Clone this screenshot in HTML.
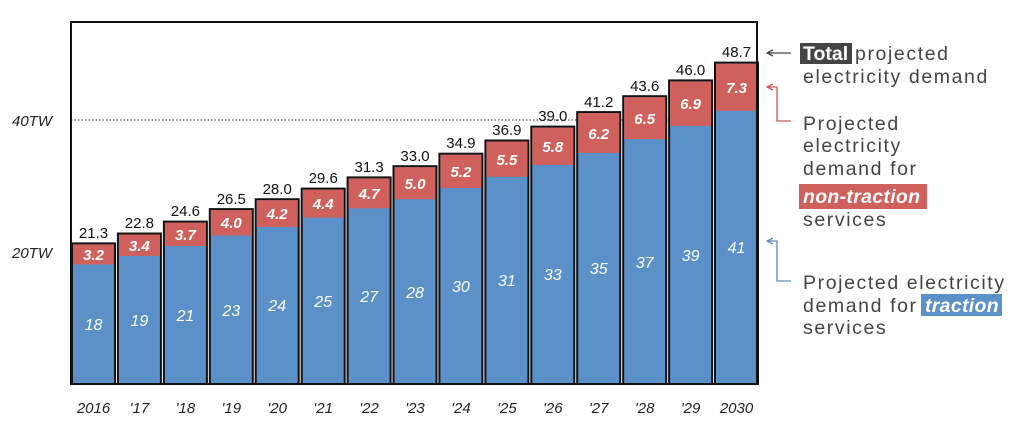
<!DOCTYPE html>
<html><head><meta charset="utf-8"><style>
html,body{margin:0;padding:0;background:#fff;}
svg{display:block;font-family:"Liberation Sans",sans-serif;}
.t{font-size:15px;fill:#111;text-anchor:middle;}
.w{font-size:16px;fill:#fff;text-anchor:middle;font-style:italic;}
.wr{font-size:15px;fill:#fff;text-anchor:middle;font-style:italic;font-weight:bold;}
.x{font-size:15px;fill:#222;text-anchor:middle;font-style:italic;}
.a{font-size:19.5px;fill:#444;letter-spacing:1.6px;}
</style></head><body>
<svg width="1024" height="427" viewBox="0 0 1024 427">
<line x1="71" y1="120" x2="757" y2="120" stroke="#555" stroke-width="1.2" stroke-dasharray="1.5 2"/>
<g stroke="#111" stroke-width="2">
<rect x="72" y="243.4" width="43" height="140.6" fill="#5b90c8"/>
<rect x="117.9" y="233.5" width="43" height="150.5" fill="#5b90c8"/>
<rect x="163.9" y="221.6" width="43" height="162.4" fill="#5b90c8"/>
<rect x="209.8" y="209.1" width="43" height="174.9" fill="#5b90c8"/>
<rect x="255.7" y="199.2" width="43" height="184.8" fill="#5b90c8"/>
<rect x="301.7" y="188.6" width="43" height="195.4" fill="#5b90c8"/>
<rect x="347.6" y="177.4" width="43" height="206.6" fill="#5b90c8"/>
<rect x="393.5" y="166.2" width="43" height="217.8" fill="#5b90c8"/>
<rect x="439.4" y="153.7" width="43" height="230.3" fill="#5b90c8"/>
<rect x="485.4" y="140.5" width="43" height="243.5" fill="#5b90c8"/>
<rect x="531.3" y="126.6" width="43" height="257.4" fill="#5b90c8"/>
<rect x="577.2" y="112.1" width="43" height="271.9" fill="#5b90c8"/>
<rect x="623.2" y="96.2" width="43" height="287.8" fill="#5b90c8"/>
<rect x="669.1" y="80.4" width="43" height="303.6" fill="#5b90c8"/>
<rect x="715" y="62.6" width="43" height="321.4" fill="#5b90c8"/>
</g>
<g fill="#d0605c">
<rect x="73" y="244.4" width="41" height="20.1"/>
<rect x="118.9" y="234.5" width="41" height="21.4"/>
<rect x="164.9" y="222.6" width="41" height="23.4"/>
<rect x="210.8" y="210.1" width="41" height="25.4"/>
<rect x="256.7" y="200.2" width="41" height="26.7"/>
<rect x="302.7" y="189.6" width="41" height="28"/>
<rect x="348.6" y="178.4" width="41" height="30"/>
<rect x="394.5" y="167.2" width="41" height="32"/>
<rect x="440.4" y="154.7" width="41" height="33.3"/>
<rect x="486.4" y="141.5" width="41" height="35.3"/>
<rect x="532.3" y="127.6" width="41" height="37.3"/>
<rect x="578.2" y="113.1" width="41" height="39.9"/>
<rect x="624.2" y="97.2" width="41" height="41.9"/>
<rect x="670.1" y="81.4" width="41" height="44.5"/>
<rect x="716" y="63.6" width="41" height="47.2"/>
</g>
<path d="M71,22 V384 H757 V22 Z" fill="none" stroke="#111" stroke-width="2"/>
<text x="52" y="126" style="font-size:15px;font-style:italic;fill:#222;text-anchor:end">40TW</text>
<text x="52" y="258" style="font-size:15px;font-style:italic;fill:#222;text-anchor:end">20TW</text>
<g class="t">
<text x="93.5" y="238">21.3</text><text x="139.4" y="228">22.8</text><text x="185.4" y="216">24.6</text><text x="231.3" y="204">26.5</text><text x="277.2" y="194">28.0</text><text x="323.2" y="183">29.6</text><text x="369.1" y="172">31.3</text><text x="415" y="161">33.0</text><text x="460.9" y="148">34.9</text><text x="506.9" y="135">36.9</text><text x="552.8" y="121">39.0</text><text x="598.7" y="107">41.2</text><text x="644.7" y="91">43.6</text><text x="690.6" y="75">46.0</text><text x="736.5" y="57">48.7</text>
</g>
<g class="wr">
<text x="93.5" y="260">3.2</text><text x="139.4" y="251">3.4</text><text x="185.4" y="240">3.7</text><text x="231.3" y="228">4.0</text><text x="277.2" y="219">4.2</text><text x="323.2" y="209">4.4</text><text x="369.1" y="199">4.7</text><text x="415" y="189">5.0</text><text x="460.9" y="177">5.2</text><text x="506.9" y="165">5.5</text><text x="552.8" y="152">5.8</text><text x="598.7" y="139">6.2</text><text x="644.7" y="124">6.5</text><text x="690.6" y="109">6.9</text><text x="736.5" y="93">7.3</text>
</g>
<g class="w">
<text x="93.5" y="330">18</text><text x="139.4" y="326">19</text><text x="185.4" y="321">21</text><text x="231.3" y="316">23</text><text x="277.2" y="311">24</text><text x="323.2" y="307">25</text><text x="369.1" y="302">27</text><text x="415" y="298">28</text><text x="460.9" y="292">30</text><text x="506.9" y="286">31</text><text x="552.8" y="280">33</text><text x="598.7" y="274">35</text><text x="644.7" y="268">37</text><text x="690.6" y="261">39</text><text x="736.5" y="253">41</text>
</g>
<g class="x">
<text x="93.5" y="413">2016</text><text x="139.4" y="413">'17</text><text x="185.4" y="413">'18</text><text x="231.3" y="413">'19</text><text x="277.2" y="413">'20</text><text x="323.2" y="413">'21</text><text x="369.1" y="413">'22</text><text x="415" y="413">'23</text><text x="460.9" y="413">'24</text><text x="506.9" y="413">'25</text><text x="552.8" y="413">'26</text><text x="598.7" y="413">'27</text><text x="644.7" y="413">'28</text><text x="690.6" y="413">'29</text><text x="736.5" y="413">2030</text>
</g>
<!-- annotations -->
<g fill="none" stroke-width="1.3">
<path d="M768,53 H791" stroke="#444"/>
<path d="M773,50 L767,53 L773,56" stroke="#444"/>
<path d="M768,87 H777 V121 H791" stroke="#c65a57"/>
<path d="M773,84 L767,87 L773,90" stroke="#c65a57"/>
<path d="M768,241 H777 V281 H791" stroke="#5b8cc4"/>
<path d="M773,238 L767,241 L773,244" stroke="#5b8cc4"/>
</g>
<rect x="800" y="43" width="52" height="21" fill="#444"/>
<rect x="799" y="184" width="128" height="25" fill="#d0605c"/>
<rect x="921" y="294" width="81" height="22" fill="#5b90c8"/>
<g class="a">
<text x="803" y="60" style="fill:#fff;font-weight:bold;letter-spacing:0">Total</text>
<text x="855" y="60">projected</text>
<text x="803" y="83">electricity demand</text>
<text x="803" y="130">Projected</text>
<text x="803" y="152">electricity</text>
<text x="803" y="175">demand for</text>
<text x="803" y="203" style="fill:#fff;font-weight:bold;font-style:italic;letter-spacing:0.3px">non-traction</text>
<text x="803" y="226">services</text>
<text x="803" y="289">Projected electricity</text>
<text x="803" y="312">demand for</text>
<text x="925" y="312" style="fill:#fff;font-weight:bold;font-style:italic;letter-spacing:0.3px">traction</text>
<text x="803" y="334">services</text>
</g>
</svg>
</body></html>
